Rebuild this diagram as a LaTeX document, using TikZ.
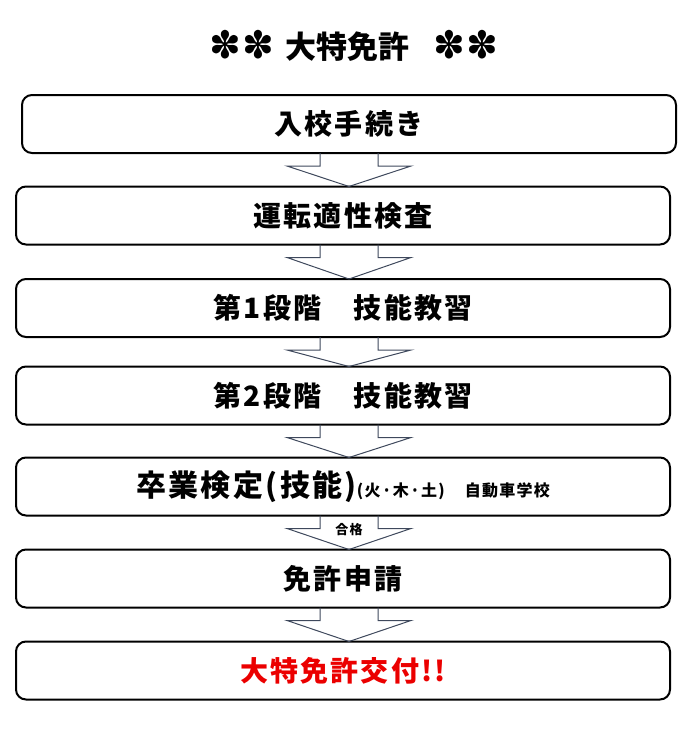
\documentclass[tikz,border=0pt]{standalone}
\usepackage{fontspec}
\usepackage{xcolor}
\usetikzlibrary{positioning}
\setmainfont{Noto Sans CJK JP}
\newfontfamily\jpfont{Noto Sans CJK JP}[LetterSpace=8]
\newfontfamily\starfont{DejaVu Sans}
\definecolor{arrowslate}{RGB}{62,72,92}
\definecolor{issuered}{RGB}{235,0,0}

% block arrow from one step to the next, on the common axis
\newcommand{\flowarrow}[2]{%
  \draw[blockarrow] (axis |- #1.south) ++(-29pt,0) -- ++(0,-13pt) -- ++(-33pt,0) -- (axis |- #2.north);
  \draw[blockarrow] (axis |- #1.south) ++(29pt,0) -- ++(0,-13pt) -- ++(33pt,0) -- (axis |- #2.north);}
\newcommand{\titlestars}{{\normalfont\starfont\fontsize{38pt}{40pt}\selectfont ✽\kern1pt✽}}

\begin{document}
\begin{tikzpicture}[
                stepbox/.style={rectangle, rounded corners=10pt, draw=black, line width=2pt, outer sep=0pt, inner sep=0pt, minimum width=654pt, minimum height=58pt, font=\jpfont\bfseries\fontsize{28pt}{30pt}\selectfont},
                blockarrow/.style={draw=arrowslate, line width=1pt, line join=miter},
                passlabel/.style={inner sep=0pt, font=\jpfont\bfseries\fontsize{13pt}{14pt}\selectfont},
            ]
            \useasboundingbox (0,0) rectangle (700pt,-729pt);
            \node (title) at (354pt,-46pt) {\bfseries\fontsize{31pt}{33pt}\selectfont\titlestars\hspace{11pt}大特免許\hspace{24pt}\titlestars};

            \node[stepbox]  (enroll)   at (349pt,-124pt)                   {入校手続き};
            \coordinate     (axis)     at (enroll.south);
            \node[stepbox]  (aptitude) [below = 33.5pt of enroll, xshift=-6pt] {運転適性検査};
            \node[stepbox]  (stage1)   [below = 34.5pt of aptitude]        {第1段階　技能教習};
            \node[stepbox]  (stage2)   [below = 29.5pt of stage1]          {第2段階　技能教習};
            \node[stepbox]  (exam)     [below = 33pt of stage2]            {{\fontsize{30pt}{32pt}\selectfont 卒業検定(技能)}{\fontsize{16pt}{18pt}\selectfont (火·木·土)}\hspace{20pt}{\fontsize{16pt}{18pt}\selectfont 自動車学校}};
            \node[stepbox]  (apply)    [below = 34pt of exam]              {免許申請};
            \node[stepbox, text=issuered] (issue) [below = 34pt of apply]  {大特免許交付!!};
            \node[passlabel] (pass)    at ([yshift=-14pt]axis |- exam.south) {合格};

            \flowarrow{enroll}{aptitude}
            \flowarrow{aptitude}{stage1}
            \flowarrow{stage1}{stage2}
            \flowarrow{stage2}{exam}
            \flowarrow{exam}{apply}
            \flowarrow{apply}{issue}
        \end{tikzpicture}
\end{document}
